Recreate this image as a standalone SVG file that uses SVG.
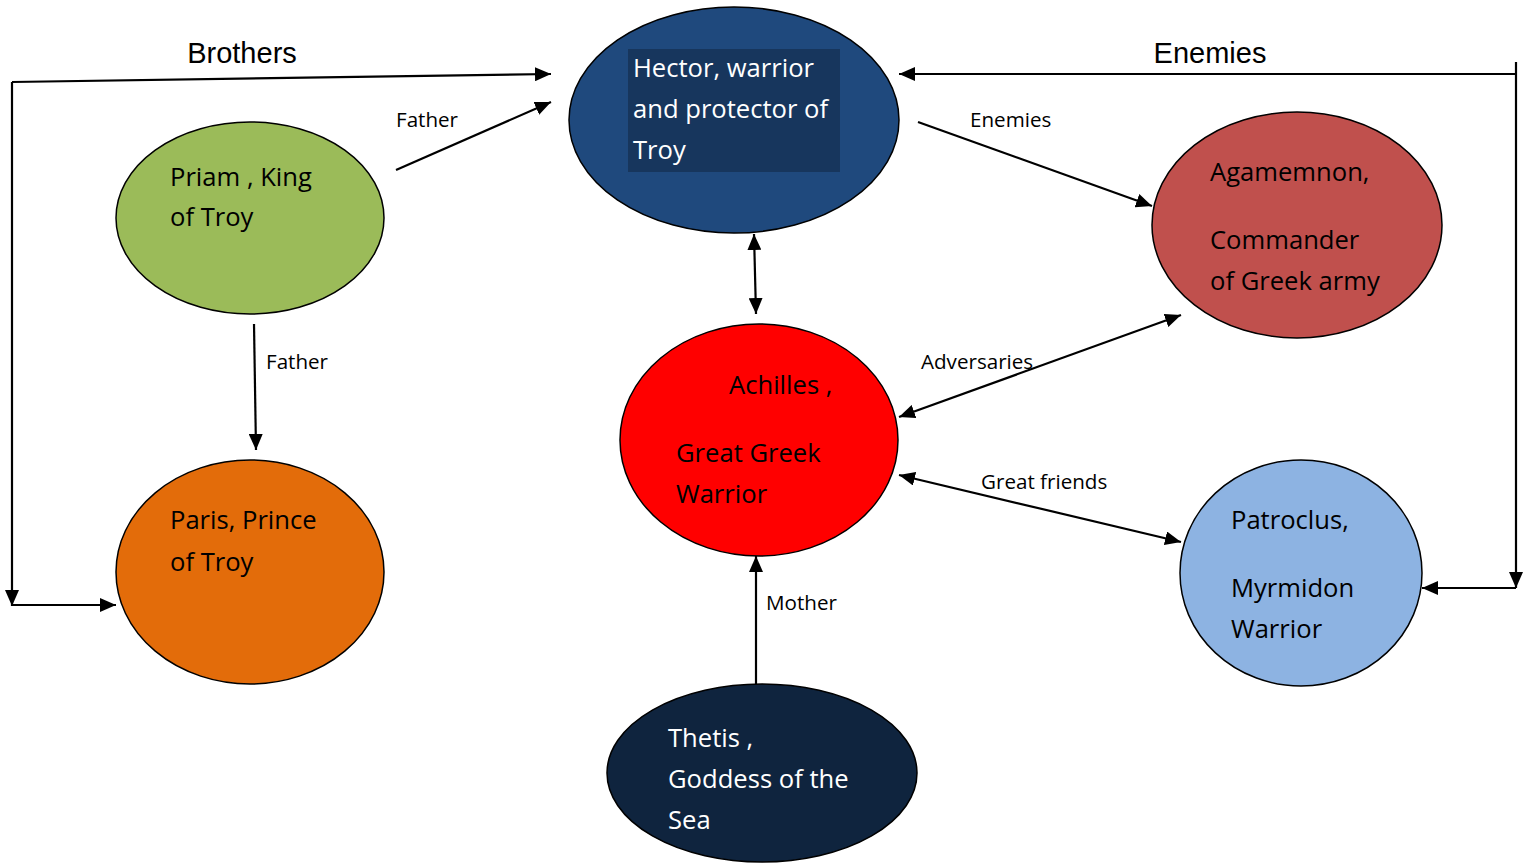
<svg xmlns="http://www.w3.org/2000/svg" width="1533" height="863" viewBox="0 0 1533 863">
<style>
.node{stroke:#000;stroke-width:1.5}
.t{font-family:"Open Sans","Noto Sans",sans-serif;font-size:25.6px}
.w{fill:#fff}
.k{fill:#000}
.lbl{font-family:"Open Sans","Noto Sans",sans-serif;font-size:20.6px;fill:#000}
.big{font-family:"Liberation Sans",Arial,sans-serif;font-size:29px;fill:#000}
.c{fill:none;stroke:#000;stroke-width:2.2}
</style>
<defs>
<marker id="ah" markerUnits="userSpaceOnUse" markerWidth="16" markerHeight="14" refX="16" refY="7" orient="auto-start-reverse">
<path d="M0,0 L16,7 L0,14 z" fill="#000"/>
</marker>
</defs>
<rect width="1533" height="863" fill="#fff"/>
<g id="connectors">
<path class="c" d="M12,82 L551,74" marker-end="url(#ah)"/>
<path class="c" d="M12,82 L12,606" marker-end="url(#ah)"/>
<path class="c" d="M12,605 L116,605" marker-end="url(#ah)"/>
<path class="c" d="M396,170 L551,102" marker-end="url(#ah)"/>
<path class="c" d="M254,324 L256,450" marker-end="url(#ah)"/>
<path class="c" d="M1516,74 L899,74" marker-end="url(#ah)"/>
<path class="c" d="M1516,62 L1516,588" marker-end="url(#ah)"/>
<path class="c" d="M1516,588 L1422,588" marker-end="url(#ah)"/>
<path class="c" d="M918,122 L1152,206" marker-end="url(#ah)"/>
<path class="c" d="M754,234 L756,314" marker-start="url(#ah)" marker-end="url(#ah)"/>
<path class="c" d="M899,417 L1181,315" marker-start="url(#ah)" marker-end="url(#ah)"/>
<path class="c" d="M899,475 L1181,542" marker-start="url(#ah)" marker-end="url(#ah)"/>
<path class="c" d="M756,684 L756,556" marker-end="url(#ah)"/>
<text class="big" x="242" y="63" text-anchor="middle">Brothers</text>
<text class="big" x="1210" y="63" text-anchor="middle">Enemies</text>
<text class="lbl" x="396" y="127">Father</text>
<text class="lbl" x="266" y="369">Father</text>
<text class="lbl" x="970" y="127">Enemies</text>
<text class="lbl" x="921" y="369">Adversaries</text>
<text class="lbl" x="981" y="489">Great friends</text>
<text class="lbl" x="766" y="610">Mother</text>
</g>
<g id="hector">
<ellipse class="node" cx="734" cy="120" rx="165" ry="113" fill="#1f497d"/>
<rect x="628" y="49" width="212" height="123" fill="#17365d"/>
<text class="t w" x="633" y="77">Hector, warrior</text>
<text class="t w" x="633" y="118">and protector of</text>
<text class="t w" x="633" y="159">Troy</text>
</g>
<g id="priam">
<ellipse class="node" cx="250" cy="218" rx="134" ry="96" fill="#9bbb59"/>
<text class="t k" x="170" y="186">Priam , King</text>
<text class="t k" x="170" y="226">of Troy</text>
</g>
<g id="paris">
<ellipse class="node" cx="250" cy="572" rx="134" ry="112" fill="#e36c0a"/>
<text class="t k" x="170" y="529">Paris, Prince</text>
<text class="t k" x="170" y="571">of Troy</text>
</g>
<g id="achilles">
<ellipse class="node" cx="759" cy="440" rx="139" ry="116" fill="#ff0000"/>
<text class="t k" x="729" y="394">Achilles ,</text>
<text class="t k" x="676" y="462">Great Greek</text>
<text class="t k" x="676" y="503">Warrior</text>
</g>
<g id="agamemnon">
<ellipse class="node" cx="1297" cy="225" rx="145" ry="113" fill="#c0504d"/>
<text class="t k" x="1210" y="181">Agamemnon,</text>
<text class="t k" x="1210" y="249">Commander</text>
<text class="t k" x="1210" y="290">of Greek army</text>
</g>
<g id="patroclus">
<ellipse class="node" cx="1301" cy="573" rx="121" ry="113" fill="#8db3e2"/>
<text class="t k" x="1231" y="529">Patroclus,</text>
<text class="t k" x="1231" y="597">Myrmidon</text>
<text class="t k" x="1231" y="638">Warrior</text>
</g>
<g id="thetis">
<ellipse class="node" cx="762" cy="773" rx="155" ry="89" fill="#0f243e"/>
<text class="t w" x="668" y="747">Thetis ,</text>
<text class="t w" x="668" y="788">Goddess of the</text>
<text class="t w" x="668" y="829">Sea</text>
</g>
</svg>
